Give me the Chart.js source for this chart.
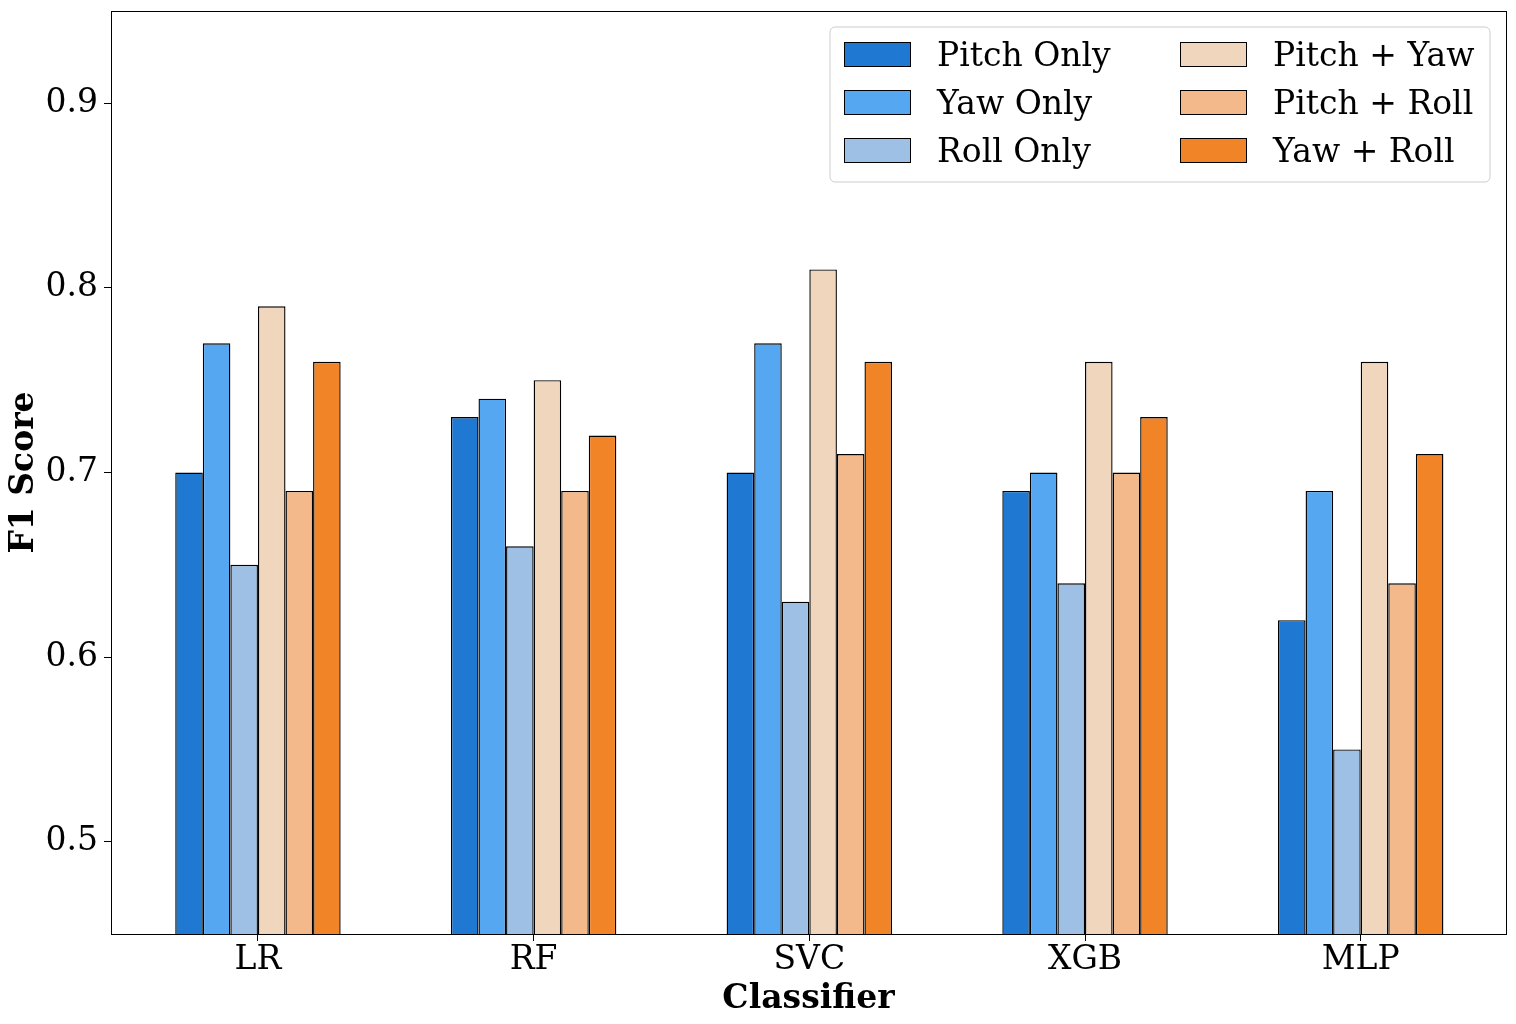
<!DOCTYPE html>
<html>
<head>
<meta charset="utf-8">
<script src="https://cdn.jsdelivr.net/npm/chart.js@4"></script>
<style>
html,body{margin:0;padding:0;background:#fff;}
#wrap{width:1516px;height:1024px;}
</style>
</head>
<body>
<div id="wrap"><canvas id="c" width="1516" height="1024"></canvas></div>
<script>
const categories = ["LR", "RF", "SVC", "XGB", "MLP"];
const seriesNames = ["Pitch Only", "Yaw Only", "Roll Only", "Pitch + Yaw", "Pitch + Roll", "Yaw + Roll"];
const pitchOnly = [0.70, 0.73, 0.70, 0.69, 0.62];
const yawOnly   = [0.77, 0.74, 0.77, 0.70, 0.69];
const rollOnly  = [0.65, 0.66, 0.63, 0.64, 0.55];
const pitchYaw  = [0.79, 0.75, 0.81, 0.76, 0.76];
const pitchRoll = [0.69, 0.69, 0.71, 0.70, 0.64];
const yawRoll   = [0.76, 0.72, 0.76, 0.73, 0.71];
const yTicks = [0.5, 0.6, 0.7, 0.8, 0.9];
const colors = ["#1f78d1", "#55a7f2", "#9fc0e5", "#f1d6be", "#f4b98b", "#f28428"];

const allSeries = [pitchOnly, yawOnly, rollOnly, pitchYaw, pitchRoll, yawRoll];
const FONT = "'DejaVu Serif', serif";
const FS = 33;

const datasets = allSeries.map((vals, k) => ({
  label: seriesNames[k],
  data: vals.map((v, i) => ({x: i, y: v})),
  backgroundColor: colors[k],
  borderColor: "#000",
  borderWidth: 1.4,
  borderSkipped: false,
  categoryPercentage: 0.6,
  barPercentage: 1.0
}));

const framePlugin = {
  id: 'frame',
  afterDraw(chart) {
    const {ctx, chartArea: a} = chart;
    ctx.save();
    ctx.strokeStyle = '#000';
    ctx.lineWidth = 1;
    ctx.strokeRect(Math.round(a.left) + 0.5, Math.round(a.top) + 0.5, Math.round(a.right - a.left), Math.round(a.bottom - a.top));
    // legend
    const lx = 830, ly = 27, lw = 660, lh = 155, r = 5;
    ctx.beginPath();
    ctx.moveTo(lx + r, ly);
    ctx.arcTo(lx + lw, ly, lx + lw, ly + lh, r);
    ctx.arcTo(lx + lw, ly + lh, lx, ly + lh, r);
    ctx.arcTo(lx, ly + lh, lx, ly, r);
    ctx.arcTo(lx, ly, lx + lw, ly, r);
    ctx.closePath();
    ctx.fillStyle = 'rgba(255,255,255,0.8)';
    ctx.fill();
    ctx.strokeStyle = '#cccccc';
    ctx.stroke();
    ctx.font = FS + 'px ' + FONT;
    ctx.textBaseline = 'middle';
    ctx.textAlign = 'left';
    const colX = [844, 1180], textX = [937, 1273], rowY = [54, 102, 150];
    for (let k = 0; k < seriesNames.length; k++) {
      const c = Math.floor(k / 3), rr = k % 3;
      ctx.fillStyle = colors[k];
      ctx.fillRect(colX[c], rowY[rr] - 12, 66, 24);
      ctx.strokeStyle = '#000';
      ctx.strokeRect(colX[c] + 0.5, rowY[rr] - 12 + 0.5, 66, 24);
      ctx.fillStyle = '#000';
      ctx.fillText(seriesNames[k], textX[c], rowY[rr] + 3);
    }
    ctx.restore();
  }
};

new Chart(document.getElementById('c'), {
  type: 'bar',
  data: { datasets },
  plugins: [framePlugin],
  options: {
    responsive: false,
    animation: false,
    devicePixelRatio: 1,
    layout: { padding: { top: 11, right: 10, left: 0, bottom: 0 } },
    plugins: { legend: { display: false }, tooltip: { enabled: false } },
    scales: {
      x: {
        type: 'linear',
        offset: false,
        min: -0.533,
        max: 4.527,
        afterBuildTicks(scale) { scale.ticks = categories.map((c, i) => ({value: i})); },
        afterFit(scale) { scale.height = 90; scale.paddingLeft = 0; scale.paddingRight = 0; },
        grid: { offset: false, drawOnChartArea: false, color: '#000', tickLength: 7, tickWidth: 1 },
        border: { display: true, color: '#000' },
        ticks: {
          color: '#000',
          font: { family: FONT, size: FS },
          padding: 0,
          maxRotation: 0,
          autoSkip: false,
          callback: (v) => categories[Math.round(v)] ?? ''
        },
        title: {
          display: true, text: 'Classifier', color: '#000',
          font: { family: FONT, size: FS, weight: 'bold' },
          padding: { top: 0, bottom: 5 }
        }
      },
      y: {
        min: 0.45,
        max: 0.95,
        afterBuildTicks(scale) { scale.ticks = yTicks.map(v => ({value: v})); },
        afterFit(scale) { scale.width = 111; scale.paddingTop = 0; scale.paddingBottom = 0; },
        grid: { drawOnChartArea: false, color: '#000', tickLength: 7, tickWidth: 1 },
        border: { display: true, color: '#000' },
        ticks: {
          color: '#000',
          font: { family: FONT, size: FS },
          padding: 6,
          callback: (v) => v.toFixed(1)
        },
        title: {
          display: true, text: 'F1 Score', color: '#000',
          font: { family: FONT, size: FS, weight: 'bold' },
          padding: { top: 5, bottom: 0 }
        }
      }
    }
  }
});
</script>
</body>
</html>
